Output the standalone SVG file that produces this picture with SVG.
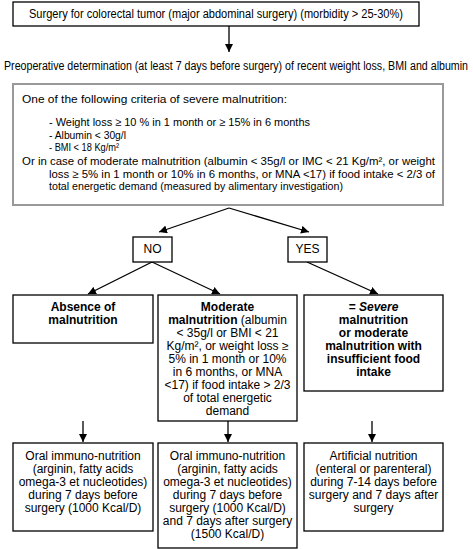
<svg xmlns="http://www.w3.org/2000/svg" width="473" height="549" viewBox="0 0 473 549">
<style>
text{font-family:"Liberation Sans",Arial,sans-serif;font-size:12px;fill:#000}
.s{font-size:11.2px}
.c{text-anchor:middle}
.b{font-weight:bold}
.box{fill:#fff;stroke:#000;stroke-width:1.3}
.gbox{fill:#fff;stroke:#999;stroke-width:2}
.ln{stroke:#000;stroke-width:1.3;fill:none;marker-end:url(#ah)}
</style>
<defs>
<marker id="ah" viewBox="0 0 10 10" refX="10" refY="5" markerWidth="8" markerHeight="8" markerUnits="userSpaceOnUse" orient="auto">
<path d="M0,0 L10,5 L0,10 z" fill="#000"/>
</marker>
</defs>
<rect width="473" height="549" fill="#fff"/>
<g id="connectors">
<line class="ln" x1="229" y1="26" x2="229" y2="52"/>
<line class="ln" x1="229" y1="208" x2="159" y2="232"/>
<line class="ln" x1="229" y1="208" x2="309" y2="232"/>
<line class="ln" x1="152" y1="262" x2="88" y2="294"/>
<line class="ln" x1="152" y1="262" x2="220" y2="294"/>
<line class="ln" x1="307" y1="262" x2="378" y2="294"/>
<line class="ln" x1="83" y1="421" x2="83" y2="442"/>
<line class="ln" x1="228" y1="421" x2="228" y2="442"/>
<line class="ln" x1="372" y1="421" x2="372" y2="442"/>
</g>
<g id="surgery">
<rect class="box" x="13" y="2" width="406" height="24"/>
<text class="c" x="216" y="18" textLength="374" lengthAdjust="spacingAndGlyphs">Surgery for colorectal tumor (major abdominal surgery) (morbidity &gt; 25-30%)</text>
</g>
<g id="preop">
<text x="4" y="70" font-size="10.2" textLength="464" lengthAdjust="spacingAndGlyphs">Preoperative determination (at least 7 days before surgery) of recent weight loss, BMI and albumin</text>
</g>
<g id="criteria">
<rect class="gbox" x="13" y="84" width="430" height="121"/>
<text class="s" x="22" y="103" textLength="265" lengthAdjust="spacingAndGlyphs">One of the following criteria of severe malnutrition:</text>
<text class="s" x="49" y="126" textLength="261" lengthAdjust="spacingAndGlyphs">- Weight loss ≥ 10 % in 1 month or ≥ 15% in 6 months</text>
<text class="s" x="49" y="138.5" textLength="77" lengthAdjust="spacingAndGlyphs">- Albumin &lt; 30g/l</text>
<text class="s" x="49" y="151" textLength="70" lengthAdjust="spacingAndGlyphs">- BMI &lt; 18 Kg/m²</text>
<text class="s" x="22" y="165" textLength="413" lengthAdjust="spacingAndGlyphs">Or in case of moderate malnutrition (albumin &lt; 35g/l or IMC &lt; 21 Kg/m²,  or weight</text>
<text class="s" x="49" y="177.5" textLength="386" lengthAdjust="spacingAndGlyphs">loss ≥  5% in 1 month or 10% in 6 months, or MNA &lt;17) if food intake &lt; 2/3 of</text>
<text class="s" x="49" y="190" textLength="294" lengthAdjust="spacingAndGlyphs">total energetic demand (measured by alimentary investigation)</text>
</g>
<g id="no">
<rect class="box" x="133" y="237" width="39" height="25"/>
<text class="c" x="152.5" y="253">NO</text>
</g>
<g id="yes">
<rect class="box" x="288" y="237" width="39" height="25"/>
<text class="c" x="307.5" y="253">YES</text>
</g>
<g id="absence">
<rect class="box" x="13" y="295" width="140" height="48"/>
<text class="c b" x="83" y="311">Absence of</text>
<text class="c b" x="83" y="324">malnutrition</text>
</g>
<g id="moderate">
<rect class="box" x="158" y="295" width="139" height="126"/>
<text class="c b" x="227.5" y="311">Moderate</text>
<text class="c" x="227.5" y="324"><tspan class="b">malnutrition</tspan> (albumin</text>
<text class="c" x="227.5" y="337">&lt; 35g/l or BMI &lt; 21</text>
<text class="c" x="227.5" y="350">Kg/m²,  or weight loss ≥</text>
<text class="c" x="227.5" y="363">5% in 1 month or 10%</text>
<text class="c" x="227.5" y="376">in 6 months, or MNA</text>
<text class="c" x="227.5" y="389">&lt;17) if food intake &gt; 2/3</text>
<text class="c" x="227.5" y="402">of total energetic</text>
<text class="c" x="227.5" y="415">demand</text>
</g>
<g id="severe">
<rect class="box" x="304" y="295" width="139" height="96"/>
<text class="c b" x="373.5" y="311">= <tspan font-style="italic">Severe</tspan></text>
<text class="c b" x="373.5" y="324">malnutrition</text>
<text class="c b" x="373.5" y="337">or moderate</text>
<text class="c b" x="373.5" y="350">malnutrition with</text>
<text class="c b" x="373.5" y="363">insufficient food</text>
<text class="c b" x="373.5" y="376">intake</text>
</g>
<g id="oral1">
<rect class="box" x="13" y="443" width="140" height="88"/>
<text class="c" x="83" y="460">Oral immuno-nutrition</text>
<text class="c" x="83" y="473">(arginin, fatty acids</text>
<text class="c" x="83" y="486">omega-3 et nucleotides)</text>
<text class="c" x="83" y="499">during 7 days before</text>
<text class="c" x="83" y="512">surgery (1000 Kcal/D)</text>
</g>
<g id="oral2">
<rect class="box" x="158" y="443" width="139" height="105"/>
<text class="c" x="227.5" y="460">Oral immuno-nutrition</text>
<text class="c" x="227.5" y="473">(arginin, fatty acids</text>
<text class="c" x="227.5" y="486">omega-3 et nucleotides)</text>
<text class="c" x="227.5" y="499">during 7 days before</text>
<text class="c" x="227.5" y="512">surgery (1000 Kcal/D)</text>
<text class="c" x="227.5" y="525">and 7 days after surgery</text>
<text class="c" x="227.5" y="538">(1500 Kcal/D)</text>
</g>
<g id="artificial">
<rect class="box" x="304" y="443" width="139" height="88"/>
<text class="c" x="373.5" y="460">Artificial nutrition</text>
<text class="c" x="373.5" y="473">(enteral or parenteral)</text>
<text class="c" x="373.5" y="486">during 7-14 days before</text>
<text class="c" x="373.5" y="499">surgery and 7 days after</text>
<text class="c" x="373.5" y="512">surgery</text>
</g>
</svg>
